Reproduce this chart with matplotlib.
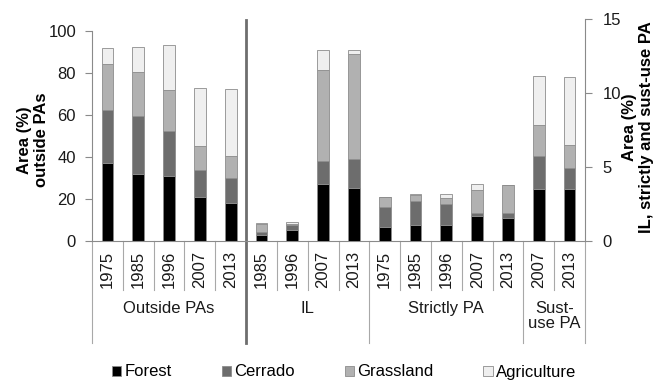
'''
Land cover stacked bars: outside PAs (left axis) vs IL / strictly / sust-use PA (right axis)
'''

# %% import packages

import numpy as np
import matplotlib.pyplot as plt
import matplotlib.transforms as mtransforms
from matplotlib.patches import Patch

plt.rcParams['font.family'] = ['Liberation Sans', 'DejaVu Sans']
plt.rcParams['font.size'] = 12

# %% data

years = ['1975', '1985', '1996', '2007', '2013',           # outside PAs
         '1985', '1996', '2007', '2013',                   # IL
         '1975', '1985', '1996', '2007', '2013',           # strictly PA
         '2007', '2013']                                   # sust-use PA
groups = ['Outside PAs', 'IL', 'Strictly PA', 'Sust-\nuse PA']
group_sizes = [5, 4, 5, 2]
classes = ['Forest', 'Cerrado', 'Grassland', 'Agriculture']

# outside PAs, % (left axis)
forest_out = [37.2, 31.8, 30.7, 20.8, 17.9]
cerrado_out = [25.0, 27.4, 21.4, 12.8, 12.2]
grass_out = [21.7, 21.1, 19.5, 11.7, 10.4]
agri_out = [7.9, 11.9, 21.7, 27.2, 31.9]

# IL, strictly and sust-use PA, % (right axis)
forest_pa = [0.39, 0.73, 3.86, 3.60, 0.97, 1.06, 1.10, 1.69, 1.53, 3.48, 3.48]
cerrado_pa = [0.23, 0.32, 1.52, 1.93, 1.30, 1.64, 1.38, 0.18, 0.34, 2.27, 1.48]
grass_pa = [0.52, 0.11, 6.19, 7.10, 0.70, 0.41, 0.42, 1.58, 1.91, 2.10, 1.51]
agri_pa = [0.09, 0.14, 1.31, 0.27, 0.03, 0.07, 0.28, 0.38, 0.02, 3.31, 4.61]

colors = ['#000000', '#6d6d6d', '#b1b1b1', '#efefef']
edge = '#8c8c8c'
axis_grey = '#8a8a8a'

# %% figure

fig = plt.figure(figsize=(6.56, 3.82), dpi=100)
ax = fig.add_axes([92 / 656, 1 - 241 / 382, (585 - 92) / 656, 222 / 382])
ax2 = ax.twinx()

x = np.arange(len(years))
x_out = x[:5]
x_pa = x[5:]
width = 0.38

bottom = np.zeros(len(x_out))
for vals, col in zip([forest_out, cerrado_out, grass_out, agri_out], colors):
    ax.bar(x_out, vals, width, bottom=bottom, color=col, edgecolor=edge, linewidth=0.6)
    bottom += np.array(vals)

bottom = np.zeros(len(x_pa))
for vals, col in zip([forest_pa, cerrado_pa, grass_pa, agri_pa], colors):
    ax2.bar(x_pa, vals, width, bottom=bottom, color=col, edgecolor=edge, linewidth=0.6)
    bottom += np.array(vals)

ax.set_xlim(-0.5, len(years) - 0.5)
ax.set_ylim(0, 105.5)
ax.set_yticks(np.arange(0, 101, 20))
ax2.set_ylim(0, 15)
ax2.set_yticks([0, 5, 10, 15])

for s in ['top', 'right']:
    ax.spines[s].set_visible(False)
for s in ['top', 'left', 'bottom']:
    ax2.spines[s].set_visible(False)
ax.spines['left'].set_bounds(0, 100)
ax.spines['left'].set_color(axis_grey)
ax.spines['bottom'].set_color(axis_grey)
ax2.spines['right'].set_color(axis_grey)

ax.tick_params(axis='y', length=5, color=axis_grey, pad=6.5, labelcolor='#1a1a1a')
ax2.tick_params(axis='y', length=5, color=axis_grey, pad=7.5, labelcolor='#1a1a1a')

ax.set_xticks(x)
ax.set_xticklabels(years, rotation=90)
ax.tick_params(axis='x', length=0, pad=7, labelcolor='#1a1a1a')

# %% category separators below the axis

trans = mtransforms.blended_transform_factory(ax.transData, ax.transAxes)
bounds = np.cumsum([0] + group_sizes) - 0.5
for b in np.arange(len(years) + 1) - 0.5:
    if b in bounds:
        continue
    ax.plot([b, b], [0, -0.221], transform=trans, color='#a8a8a8', lw=0.8, clip_on=False)
for b in bounds:
    if b == bounds[1]:
        ax.plot([b, b], [0.996, -0.46], transform=trans, color='#6e6e6e', lw=2, clip_on=False)
    else:
        ax.plot([b, b], [0, -0.46], transform=trans, color='#a8a8a8', lw=0.8, clip_on=False)

for i, name in enumerate(groups):
    c = (bounds[i] + bounds[i + 1]) / 2
    ax.text(c, -0.27, name, transform=trans, ha='center', va='top',
            linespacing=1.0, color='#1a1a1a')

# %% axis titles and legend

fig.text(33 / 656, 1 - 140 / 382, 'Area (%)\noutside PAs', rotation=90,
         fontweight='bold', ha='center', va='center', linespacing=1.1)
fig.text(638 / 656, 1 - 127 / 382, 'Area (%)\nIL, strictly and sust-use PA', rotation=90,
         fontweight='bold', ha='center', va='center', linespacing=1.1)

handles = [Patch(facecolor=c, edgecolor=edge, linewidth=0.6) for c in colors]
fig.legend(handles, classes, loc='center', bbox_to_anchor=(344 / 656, 1 - 372 / 382),
           ncol=4, frameon=False, handlelength=0.55, handleheight=0.55,
           handletextpad=0.2, columnspacing=3.0)

fig.savefig('out.png', dpi=100)
